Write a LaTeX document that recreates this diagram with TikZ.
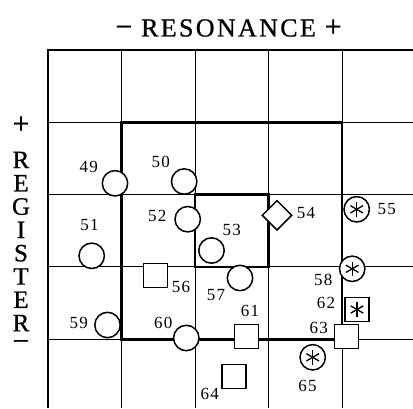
\documentclass[tikz,border=0pt]{standalone}
\usepackage{fontspec}
\setmainfont{Liberation Serif}
\usetikzlibrary{shapes.geometric}
\newcommand{\bigsign}[1]{{\fontsize{30}{30}\selectfont #1}}
\begin{document}
\begin{tikzpicture}[x=1pt,y=-1pt,
  gridline/.style={line width=0.9pt},
  frameline/.style={line width=1.8pt},
  boldline/.style={line width=2.8pt},
  shp/.style={draw, line width=1.5pt, fill=white, inner sep=0pt, outer sep=0pt},
  circ/.style={shp, circle, minimum size=25.4pt},
  sq/.style={shp, rectangle, minimum size=24pt},
  dia/.style={shp, diamond, minimum size=29.4pt},
  numtext/.style={inner sep=0pt, font=\fontsize{17}{17}\selectfont\addfontfeature{LetterSpace=8}},
  headtext/.style={inner sep=0pt, font=\fontsize{26}{26}\selectfont\addfontfeature{LetterSpace=9,FakeBold=0.8}},
  sidetext/.style={inner sep=0pt, align=center, font=\fontsize{25}{23.3}\selectfont\addfontfeature{FakeBold=0.8}},
  starline/.style={line width=1.3pt}
]
\useasboundingbox (0,0) rectangle (413,408);

% grid
\foreach \gx in {121.5,195,268.5,342}
  \draw[gridline] (\gx,50) -- (\gx,408);
\foreach \gy in {122.3,194.6,266.9,339.2}
  \draw[gridline] (48,\gy) -- (413,\gy);
\draw[frameline] (413,50) -- (48,50) -- (48,408);

% bold squares
\draw[boldline] (121.5,122.3) rectangle (342,339.2);
\draw[boldline] (195,194.6) rectangle (268.5,266.9);

% headings
\node[headtext] (title) at (228.5,28) {\bigsign{−} RESONANCE \bigsign{+}};
\node[sidetext] (regplus) at (21,125) {\bigsign{+}};
\node[sidetext] (register) at (21,241.5) {R\\E\\G\\I\\S\\T\\E\\R};
\node[sidetext] (regminus) at (21,345.5) {\bigsign{−}};

% markers
\node[circ] (s49) at (115,183.3) {};
\node[circ] (s50) at (184.2,181.5) {};
\node[circ] (s51) at (91.7,255.8) {};
\node[circ] (s52) at (187.7,219.2) {};
\node[circ] (s53) at (211.5,250.5) {};
\node[dia]  (s54) at (277,215.3) {};
\node[circ] (s55) at (356.7,209.3) {};
\node[sq]   (s56) at (155.5,275.7) {};
\node[circ] (s57) at (240,278) {};
\node[circ] (s58) at (352.2,268.8) {};
\node[circ] (s59) at (107.5,325) {};
\node[circ] (s60) at (186.3,338) {};
\node[sq]   (s61) at (246.7,336.7) {};
\node[sq]   (s62) at (357,309.5) {};
\node[sq]   (s63) at (346.7,336.7) {};
\node[sq]   (s64) at (233.8,376.3) {};
\node[circ] (s65) at (312.7,357.3) {};

% asterisks inside the starred markers
\foreach \s in {s55,s58,s62,s65}
  \foreach \a in {90,30,150}
    \draw[starline] (\s.center) ++(\a:7.3) -- ++(\a+180:14.6);

% numbers
\node[numtext] (t49) at (88.7,167) {49};
\node[numtext] (t50) at (160.7,162) {50};
\node[numtext] (t51) at (89.5,224.5) {51};
\node[numtext] (t52) at (157.2,215.8) {52};
\node[numtext] (t53) at (231.7,230) {53};
\node[numtext] (t54) at (306,212.5) {54};
\node[numtext] (t55) at (386.7,209.5) {55};
\node[numtext] (t56) at (181,287) {56};
\node[numtext] (t57) at (216,295) {57};
\node[numtext] (t58) at (323.3,280) {58};
\node[numtext] (t59) at (78.7,323.3) {59};
\node[numtext] (t60) at (163.3,322.5) {60};
\node[numtext] (t61) at (250,310.5) {61};
\node[numtext] (t62) at (326,303.3) {62};
\node[numtext] (t63) at (318.8,327.5) {63};
\node[numtext] (t64) at (209.7,394) {64};
\node[numtext] (t65) at (307.5,386) {65};
\end{tikzpicture}
\end{document}
